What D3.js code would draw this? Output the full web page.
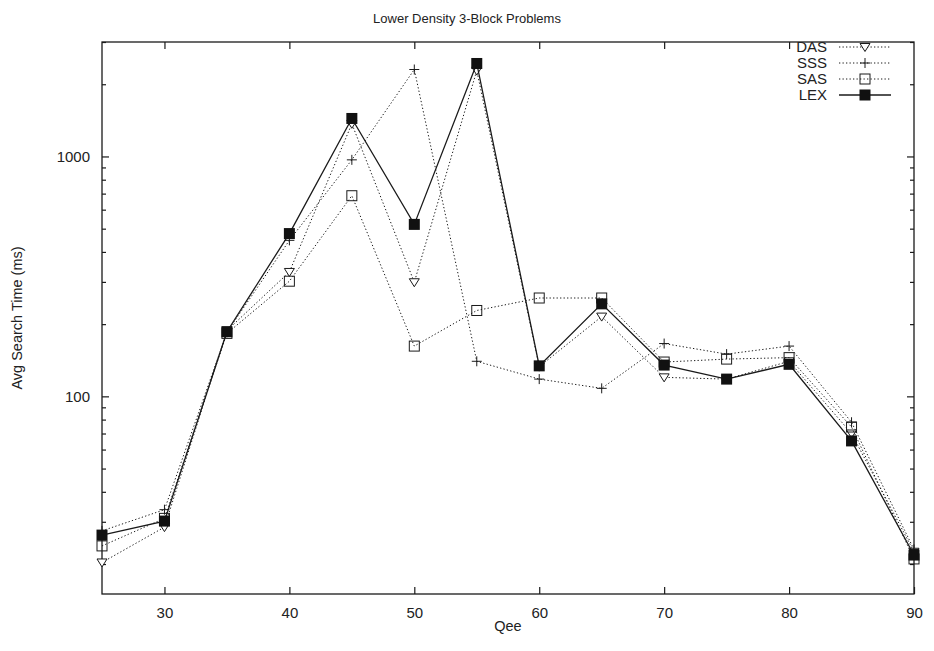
<!DOCTYPE html>
<html>
<head>
<meta charset="utf-8">
<script src="https://cdn.jsdelivr.net/npm/d3@7/dist/d3.min.js"></script>
<style>
  html, body { margin: 0; padding: 0; background: #fff; }
  svg { display: block; font-family: "Liberation Sans", Arial, Helvetica, sans-serif; }
</style>
</head>
<body>
<svg id="chart" width="934" height="651"></svg>
<script>
// ---- data ----
const qee = [25, 30, 35, 40, 45, 50, 55, 60, 65, 70, 75, 80, 85, 90];
const das = [20.3, 28.5, 188, 330, 1368, 299, 2280, 133, 215, 120, 118, 140, 70, 22.5];
const sss = [27.5, 33.7, 185, 447, 968, 2304, 140, 118, 108, 166, 150, 162, 78, 23];
const sas = [23.8, 31, 183, 302, 686, 162, 228, 257, 257, 139, 143, 145, 74.5, 21];
const lex = [26.4, 30.2, 186, 477, 1440, 521, 2441, 134, 243, 135, 118, 136, 65.2, 21.8];
const xTicks = [30, 40, 50, 60, 70, 80, 90];
const yMajor = [100, 1000];
const seriesNames = ["DAS", "SSS", "SAS", "LEX"];

const svg = d3.select("#chart");
const L = 102, R = 914, T = 42, B = 594;

const x = d3.scaleLinear().domain([25, 90]).range([L, R]);
const y = d3.scaleLog().domain([15, 3000]).range([B, T]);

// minor ticks
const yMinor = [];
[10, 100, 1000].forEach(d => { for (let k = 2; k <= 9; k++) { const v = d * k; if (v >= 15 && v <= 3000) yMinor.push(v); } });

const ink = "#1a1a1a";

// frame
svg.append("rect").attr("x", L).attr("y", T).attr("width", R - L).attr("height", B - T)
  .attr("fill", "none").attr("stroke", ink).attr("stroke-width", 1.3);

// axes via d3
const xAxisB = d3.axisBottom(x).tickValues(xTicks).tickSize(-7).tickPadding(13).tickFormat(d3.format("d"));
const gxb = svg.append("g").attr("transform", `translate(0,${B})`).call(xAxisB);
const xAxisT = d3.axisTop(x).tickValues(xTicks.filter(d => d < 90)).tickSize(-7).tickFormat("");
const gxt = svg.append("g").attr("transform", `translate(0,${T})`).call(xAxisT);

const yAxisL = d3.axisLeft(y).tickValues(yMajor).tickSize(-7).tickPadding(12).tickFormat(d3.format("d"));
const gyl = svg.append("g").attr("transform", `translate(${L},0)`).call(yAxisL);
const yAxisLm = d3.axisLeft(y).tickValues(yMinor).tickSize(-4).tickFormat("");
const gylm = svg.append("g").attr("transform", `translate(${L},0)`).call(yAxisLm);
const yAxisR = d3.axisRight(y).tickValues(yMajor).tickSize(-7).tickFormat("");
const gyr = svg.append("g").attr("transform", `translate(${R},0)`).call(yAxisR);
const yAxisRm = d3.axisRight(y).tickValues(yMinor).tickSize(-4).tickFormat("");
const gyrm = svg.append("g").attr("transform", `translate(${R},0)`).call(yAxisRm);

[gxb, gxt, gyl, gylm, gyr, gyrm].forEach(g => {
  g.select(".domain").remove();
  g.selectAll(".tick line").attr("stroke", ink).attr("stroke-width", 1.2);
  g.selectAll(".tick text").attr("fill", "#222").attr("font-size", 15)
   .attr("font-family", "\"Liberation Sans\", Arial, sans-serif");
});

// titles
svg.append("text").attr("x", 467).attr("y", 23).attr("text-anchor", "middle")
  .attr("font-size", 13).attr("fill", "#222").text("Lower Density 3-Block Problems");
svg.append("text").attr("x", (L + R) / 2).attr("y", 631).attr("text-anchor", "middle")
  .attr("font-size", 14.5).attr("fill", "#222").text("Qee");
svg.append("text").attr("transform", `translate(22,${(T + B) / 2}) rotate(-90)`).attr("text-anchor", "middle")
  .attr("font-size", 14.5).attr("fill", "#222").text("Avg Search Time (ms)");

// markers
function drawMarker(g, type, cx, cy) {
  if (type === "tri") {
    const s = 5;
    g.append("path").attr("d", `M${cx - s},${cy - s * 0.7}L${cx + s},${cy - s * 0.7}L${cx},${cy + s * 0.9}Z`)
      .attr("fill", "#fff").attr("stroke", ink).attr("stroke-width", 1);
  } else if (type === "plus") {
    const s = 5;
    g.append("path").attr("d", `M${cx - s},${cy}H${cx + s}M${cx},${cy - s}V${cy + s}`)
      .attr("stroke", ink).attr("stroke-width", 1);
  } else if (type === "sq") {
    const s = 5;
    g.append("rect").attr("x", cx - s).attr("y", cy - s).attr("width", 2 * s).attr("height", 2 * s)
      .attr("fill", "none").attr("stroke", ink).attr("stroke-width", 1);
  } else if (type === "fsq") {
    const s = 5.5;
    g.append("rect").attr("x", cx - s).attr("y", cy - s).attr("width", 2 * s).attr("height", 2 * s)
      .attr("fill", "#111").attr("stroke", "none");
  }
}

const series = [
  { name: seriesNames[0], vals: das, dash: "1.3,2.2", marker: "tri", w: 1 },
  { name: seriesNames[1], vals: sss, dash: "1.3,2.2", marker: "plus", w: 1 },
  { name: seriesNames[2], vals: sas, dash: "1.3,2.2", marker: "sq", w: 1 },
  { name: seriesNames[3], vals: lex, dash: null, marker: "fsq", w: 1.3 }
];

const line = d3.line().x(d => x(d[0])).y(d => y(d[1]));
const plot = svg.append("g");
series.forEach(s => {
  const pts = qee.map((q, i) => [q, s.vals[i]]);
  const p = plot.append("path").attr("d", line(pts)).attr("fill", "none")
    .attr("stroke", ink).attr("stroke-width", s.w);
  if (s.dash) p.attr("stroke-dasharray", s.dash);
  const mg = plot.append("g");
  pts.forEach(d => drawMarker(mg, s.marker, x(d[0]), y(d[1])));
});

// legend
const legY0 = 47, legDy = 16;
series.forEach((s, i) => {
  const ly = legY0 + i * legDy;
  svg.append("text").attr("x", 827).attr("y", ly + 5).attr("text-anchor", "end")
    .attr("font-size", 15).attr("fill", "#222").text(s.name);
  const p = svg.append("line").attr("x1", 839).attr("x2", 891).attr("y1", ly).attr("y2", ly)
    .attr("stroke", ink).attr("stroke-width", s.w);
  if (s.dash) p.attr("stroke-dasharray", s.dash);
  drawMarker(svg, s.marker, 865, ly);
});
</script>
</body>
</html>
